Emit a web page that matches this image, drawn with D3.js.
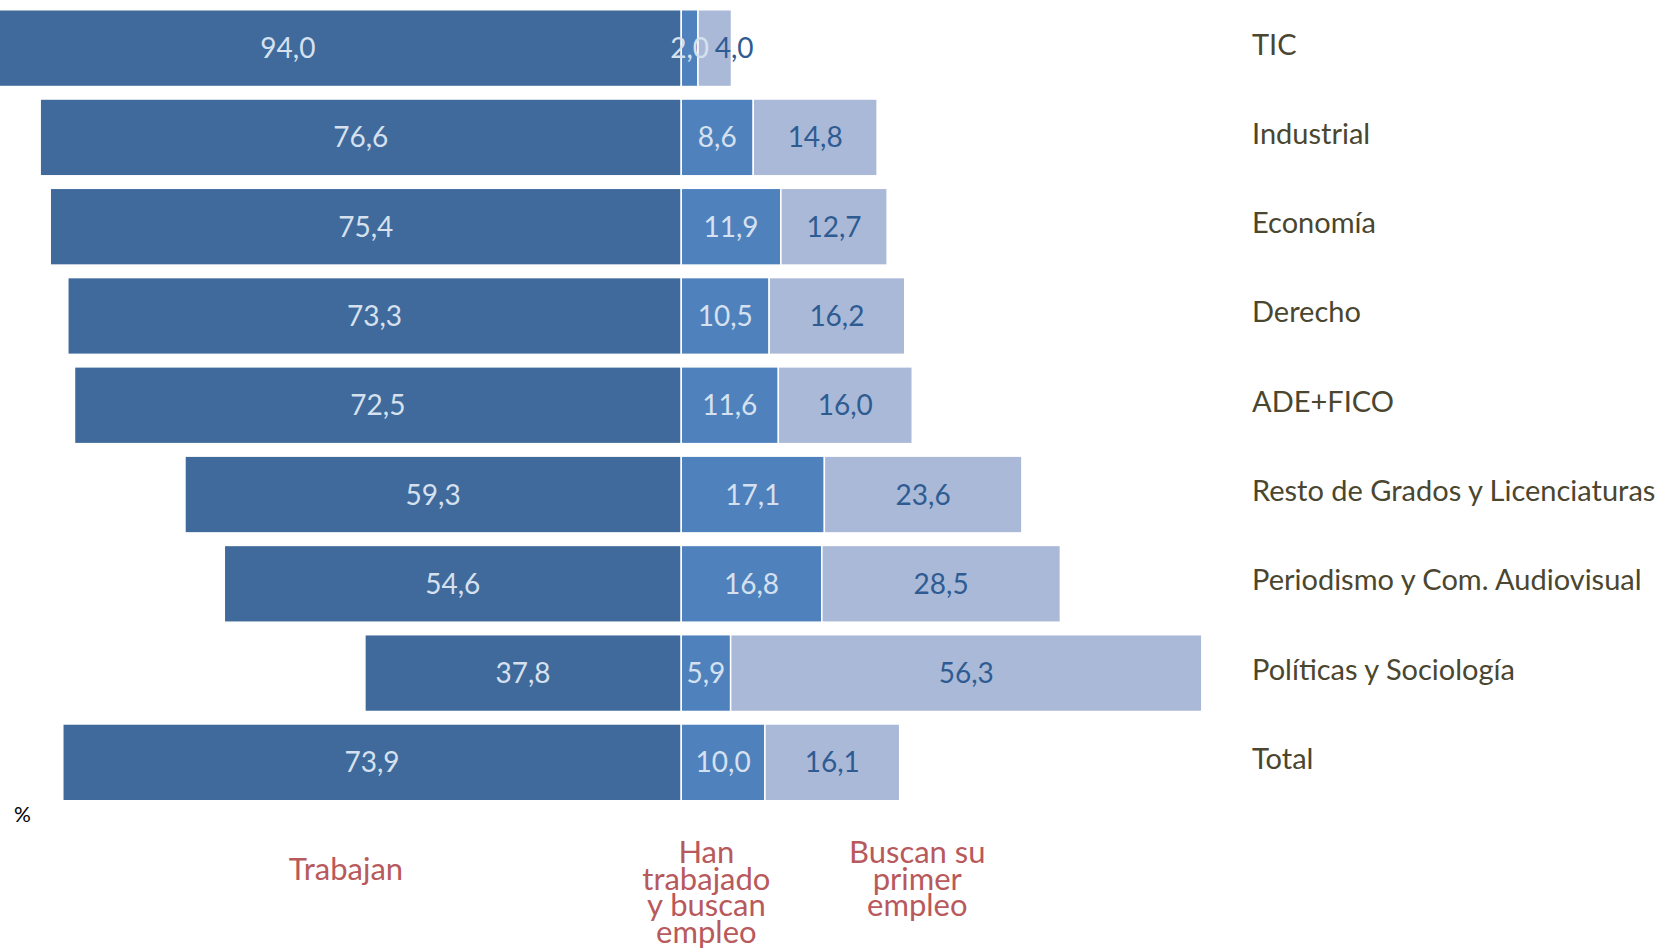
<!DOCTYPE html>
<html>
<head>
<meta charset="utf-8">
<script src="https://cdn.jsdelivr.net/npm/d3@7"></script>
<style>
  body { margin: 0; background: #fff; }
  svg { display: block; font-family: Lato, "Open Sans", sans-serif; }
</style>
</head>
<body>
<div id="chart"></div>
<script>
// chart size, same as the window
const width = 1668;
const height = 952;

// data
const categories = ["TIC", "Industrial", "Economía", "Derecho", "ADE+FICO",
  "Resto de Grados y Licenciaturas", "Periodismo y Com. Audiovisual",
  "Políticas y Sociología", "Total"];
const trabajan = [94.0, 76.6, 75.4, 73.3, 72.5, 59.3, 54.6, 37.8, 73.9];
const hanTrabajado = [2.0, 8.6, 11.9, 10.5, 11.6, 17.1, 16.8, 5.9, 10.0];
const buscanPrimer = [4.0, 14.8, 12.7, 16.2, 16.0, 23.6, 28.5, 56.3, 16.1];
const seriesNames = ["Trabajan", "Han trabajado y buscan empleo", "Buscan su primer empleo"];

const colors = ["#3f6a9b", "#4f81bd", "#aab9d8"];
const labelColors = ["#d6e1ef", "#d6e1ef", "#2e5c92"];
const legendColor = "#b8595c";

const svg = d3.select("#chart")
  .append("svg")
  .attr("width", width)
  .attr("height", height);

// x scale: Trabajan goes left of zero, the other two stack to the right
const x = d3.scaleLinear()
  .domain([-81.4, 117.9])
  .range([0, width]);

const y = d3.scaleBand()
  .domain(categories)
  .range([3.5, 807])
  .paddingInner(0.14)
  .paddingOuter(0.07);

// build segments from the arrays
const rows = categories.map((c, i) => ({
  cat: c,
  segs: [
    {s: 0, x0: -trabajan[i], x1: 0, v: trabajan[i]},
    {s: 1, x0: 0, x1: hanTrabajado[i], v: hanTrabajado[i]},
    {s: 2, x0: hanTrabajado[i], x1: hanTrabajado[i] + buscanPrimer[i], v: buscanPrimer[i]}
  ]
}));

const fmt = v => v.toFixed(1).replace(".", ",");

const row = svg.selectAll(".row")
  .data(rows)
  .enter()
  .append("g")
    .attr("class", "row")
    .attr("transform", d => `translate(0,${y(d.cat)})`);

row.selectAll("rect")
  .data(d => d.segs)
  .enter()
  .append("rect")
    .attr("x", d => x(d.x0))
    .attr("y", 0)
    .attr("width", d => x(d.x1) - x(d.x0))
    .attr("height", y.bandwidth())
    .attr("fill", d => colors[d.s])
    .attr("stroke", "#fff")
    .attr("stroke-width", 1.5);

// value labels, centred in each segment (thin light segments start the label at the middle)
const thin = d => d.s === 2 && x(d.x1) - x(d.x0) < 45;
row.selectAll("text.val")
  .data(d => d.segs)
  .enter()
  .append("text")
    .attr("class", "val")
    .attr("x", d => (x(d.x0) + x(d.x1)) / 2)
    .attr("text-anchor", d => thin(d) ? "start" : "middle")
    .attr("y", y.bandwidth() / 2)
    .attr("dy", "0.36em")
    .attr("font-size", "28px")
    .attr("fill", d => labelColors[d.s])
    .text(d => fmt(d.v));

// category names on the right
svg.append("g")
  .selectAll("text")
  .data(categories)
  .enter()
  .append("text")
    .attr("x", 1252)
    .attr("y", d => y(d) + y.bandwidth() / 2 - 4)
    .attr("dy", "0.36em")
    .attr("font-size", "29px")
    .attr("fill", "#4a4630")
    .text(d => d);

// % unit mark
svg.append("text")
  .attr("x", 14)
  .attr("y", 822)
  .attr("font-size", "21px")
  .attr("fill", "#000")
  .text("%");

// series names under the bars
const legendLines = [
  {x: 346, lines: ["Trabajan"]},
  {x: x(3), lines: ["Han", "trabajado", "y buscan", "empleo"]},
  {x: x(28.2), lines: ["Buscan su", "primer", "empleo"]}
];
legendLines.forEach((l, i) => {
  const t = svg.append("text")
    .attr("text-anchor", "middle")
    .attr("font-size", "31px")
    .attr("fill", legendColor)
    .attr("aria-label", seriesNames[i]);
  const top = l.lines.length === 1 ? 880 : 863;
  l.lines.forEach((s, j) => {
    t.append("tspan")
      .attr("x", l.x)
      .attr("y", top + j * 26.5)
      .text(s);
  });
});
</script>
</body>
</html>
